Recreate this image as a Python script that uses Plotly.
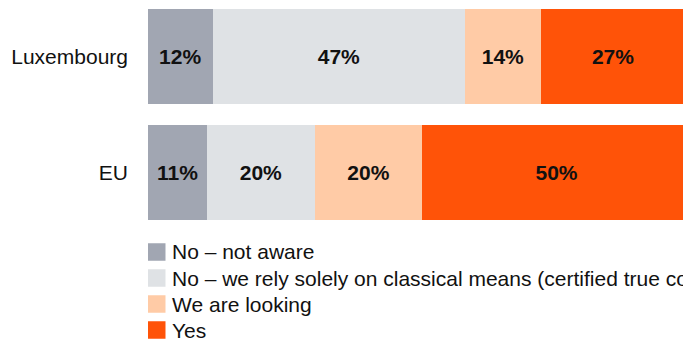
import plotly.graph_objects as go

categories = ["EU", "Luxembourg"]
series_names = [
    "No – not aware",
    "No – we rely solely on classical means (certified true copies, etc.)",
    "We are looking",
    "Yes",
]
values = {
    "No – not aware": [11, 12],
    "No – we rely solely on classical means (certified true copies, etc.)": [20, 47],
    "We are looking": [20, 14],
    "Yes": [50, 27],
}
colors = ["#A1A6B2", "#DFE2E5", "#FFCBA6", "#FF5308"]

W, H = 683, 342
ML, MR, MT, MB = 148, 0, 0, 112
PW, PH = W - ML - MR, H - MT - MB
FONT = "Liberation Sans, Arial, Helvetica, sans-serif"

fig = go.Figure()
for name, col in zip(series_names, colors):
    fig.add_trace(go.Bar(
        y=categories,
        x=values[name],
        name=name,
        orientation="h",
        marker=dict(color=col, line=dict(width=0)),
        texttemplate="%{x}%",
        textposition="inside",
        insidetextanchor="middle",
        textangle=0,
        constraintext="none",
        textfont=dict(family=FONT, size=21, color="#111111", weight="bold"),
        showlegend=False,
        hoverinfo="skip",
    ))

# manual legend (layout decoration)
def px_x(p):
    return (p - ML) / PW

def px_y(p):
    return (MT + PH - p) / PH

shapes, annotations = [], []
row0, step, sq = 252, 26, 17.5
for i, (name, col) in enumerate(zip(series_names, colors)):
    cy = row0 + i * step
    shapes.append(dict(type="rect", xref="paper", yref="paper",
                       x0=px_x(148), x1=px_x(148 + sq),
                       y0=px_y(cy + sq / 2), y1=px_y(cy - sq / 2),
                       fillcolor=col, line=dict(width=0)))
    annotations.append(dict(xref="paper", yref="paper", x=px_x(170), y=px_y(cy),
                            xanchor="left", yanchor="middle", showarrow=False,
                            text=name, font=dict(family=FONT, size=21, color="#111111")))

fig.update_layout(
    width=W, height=H,
    margin=dict(l=ML, r=MR, t=MT, b=MB, autoexpand=False),
    barmode="stack",
    bargap=0.18,
    paper_bgcolor="white",
    plot_bgcolor="white",
    font=dict(family=FONT, size=21, color="#111111"),
    xaxis=dict(visible=False, range=[0, 99.5], fixedrange=True),
    yaxis=dict(range=[-0.5, 1.49], showgrid=False, showline=False, zeroline=False,
               ticks="", ticklabelstandoff=19,
               tickfont=dict(family=FONT, size=21, color="#111111"), fixedrange=True),
    shapes=shapes,
    annotations=annotations,
    showlegend=False,
)

fig.write_html(
    "out.html",
    config={"displayModeBar": False},
    post_script="document.body.style.margin='0';document.body.style.overflow='hidden';",
)
